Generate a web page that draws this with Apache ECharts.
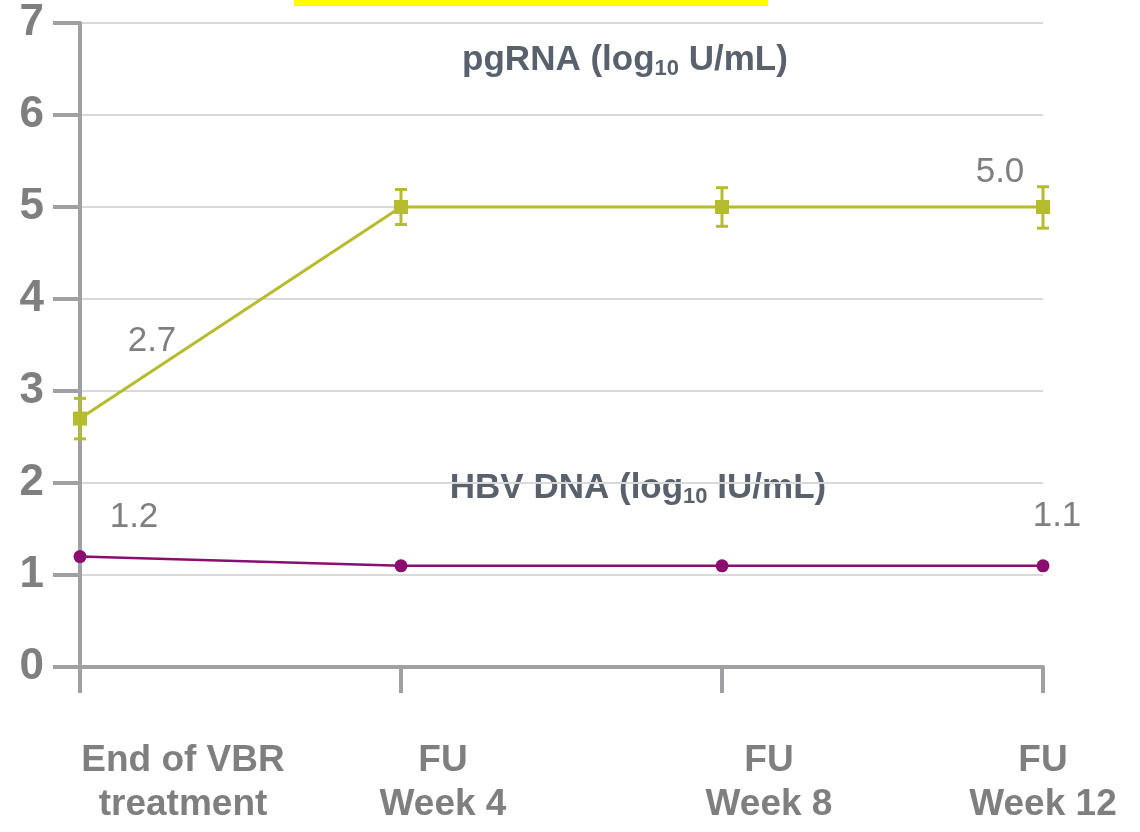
<!DOCTYPE html>
<html>
<head>
<meta charset="utf-8">
<script src="https://cdn.jsdelivr.net/npm/echarts@6/dist/echarts.min.js"></script>
<style>
html,body{margin:0;padding:0;background:#fff;}
#chart{width:1140px;height:832px;}
</style>
</head>
<body>
<div id="chart"></div>
<script>
const categories = ['End of VBR\ntreatment', 'FU\nWeek 4', 'FU\nWeek 8', 'FU\nWeek 12'];
const pgRNA = [2.7, 5.0, 5.0, 5.0];
const pgRNALow = [2.48, 4.81, 4.79, 4.77];
const pgRNAHigh = [2.92, 5.19, 5.21, 5.22];
const hbvDNA = [1.2, 1.1, 1.1, 1.1];
const yTicks = [0, 1, 2, 3, 4, 5, 6, 7];

const FONT = '"Liberation Sans", Arial, sans-serif';
const GREY = '#7f7f7f';
const AXIS = '#a0a0a4';
const OLIVE = '#b5bc2e';
const PURPLE = '#8b0d6f';
const SLATE = '#59626c';

const catPad = [206, 84, 94, 0];
const rich = {};
catPad.forEach((p, i) => {
  rich['c' + i] = {
    fontFamily: FONT, fontSize: 37, fontWeight: 'bold', color: GREY,
    lineHeight: 44, padding: [0, 0, 0, p]
  };
});

const pgLabels = {
  0: { show: true, formatter: '2.7', offset: [72, -77] },
  3: { show: true, formatter: '5.0', offset: [-43, -35] }
};
const dnaLabels = {
  0: { show: true, formatter: '1.2', offset: [54, -39] },
  3: { show: true, formatter: '1.1', offset: [14, -49] }
};
const dataLabelStyle = {
  position: 'inside', align: 'center', verticalAlign: 'middle',
  fontFamily: FONT, fontSize: 35, color: GREY
};

function withLabels(vals, labels) {
  return vals.map((v, i) => labels[i]
    ? { value: v, label: Object.assign({}, dataLabelStyle, labels[i]) }
    : { value: v, label: { show: false } });
}

const errData = pgRNA.map((v, i) => [i, pgRNALow[i], pgRNAHigh[i]]);

const annoRich = {
  a: { fontFamily: FONT, fontSize: 35, fontWeight: 'bold', fill: SLATE },
  s: { fontFamily: FONT, fontSize: 22, fontWeight: 'bold', fill: SLATE, padding: [18, 0, 0, 0] }
};

const chart = echarts.init(document.getElementById('chart'));
chart.setOption({
  animation: false,
  backgroundColor: '#ffffff',
  grid: { left: 80, right: 97, top: 23, bottom: 165, containLabel: false, outerBoundsMode: 'none' },
  xAxis: {
    type: 'category',
    data: categories,
    boundaryGap: false,
    axisLine: { lineStyle: { color: AXIS, width: 4 } },
    axisTick: { show: true, length: 26, lineStyle: { color: AXIS, width: 4 } },
    axisLabel: {
      margin: 72,
      interval: 0,
      hideOverlap: false,
      formatter: function (val, idx) {
        return val.split('\n').map(s => '{c' + idx + '|' + s + '}').join('\n');
      },
      rich: rich
    },
    splitLine: { show: false }
  },
  yAxis: {
    type: 'value',
    min: 0, max: 7, interval: 1,
    axisLine: { show: true, lineStyle: { color: AXIS, width: 4 } },
    axisTick: { show: true, length: 27, lineStyle: { color: AXIS, width: 4 } },
    axisLabel: {
      margin: 36,
      fontFamily: FONT, fontSize: 44, fontWeight: 'bold', color: GREY,
      formatter: function (v) { return yTicks.indexOf(v) >= 0 ? String(v) : ''; }
    },
    splitLine: { show: true, lineStyle: { color: '#d9d9d9', width: 2 } }
  },
  series: [
    {
      name: 'pgRNA',
      type: 'line',
      data: withLabels(pgRNA, pgLabels),
      symbol: 'rect',
      symbolSize: 14,
      itemStyle: { color: OLIVE },
      lineStyle: { color: OLIVE, width: 3 },
      z: 3
    },
    {
      name: 'pgRNA error',
      type: 'custom',
      data: errData,
      renderItem: function (params, api) {
        const x = api.value(0);
        const lo = api.coord([x, api.value(1)]);
        const hi = api.coord([x, api.value(2)]);
        const hw = 6;
        const style = { stroke: OLIVE, lineWidth: 3, fill: null };
        return {
          type: 'group',
          children: [
            { type: 'line', shape: { x1: hi[0], y1: hi[1], x2: lo[0], y2: lo[1] }, style: style },
            { type: 'line', shape: { x1: hi[0] - hw, y1: hi[1], x2: hi[0] + hw, y2: hi[1] }, style: style },
            { type: 'line', shape: { x1: lo[0] - hw, y1: lo[1], x2: lo[0] + hw, y2: lo[1] }, style: style }
          ]
        };
      },
      z: 4
    },
    {
      name: 'HBV DNA',
      type: 'line',
      data: withLabels(hbvDNA, dnaLabels),
      symbol: 'circle',
      symbolSize: 13,
      itemStyle: { color: PURPLE },
      lineStyle: { color: PURPLE, width: 2.5 },
      z: 3
    }
  ],
  graphic: [
    { type: 'rect', left: 294, top: 0, shape: { width: 474, height: 6 }, style: { fill: '#ffff00' }, z: 10 },
    {
      type: 'text', x: 625, y: 60,
      style: { text: '{a|pgRNA (log}{s|10}{a| U/mL)}', align: 'center', verticalAlign: 'middle', rich: annoRich }
    },
    {
      type: 'text', x: 638, y: 488,
      style: { text: '{a|HBV DNA (log}{s|10}{a| IU/mL)}', align: 'center', verticalAlign: 'middle', rich: annoRich }
    }
  ]
});
</script>
</body>
</html>
